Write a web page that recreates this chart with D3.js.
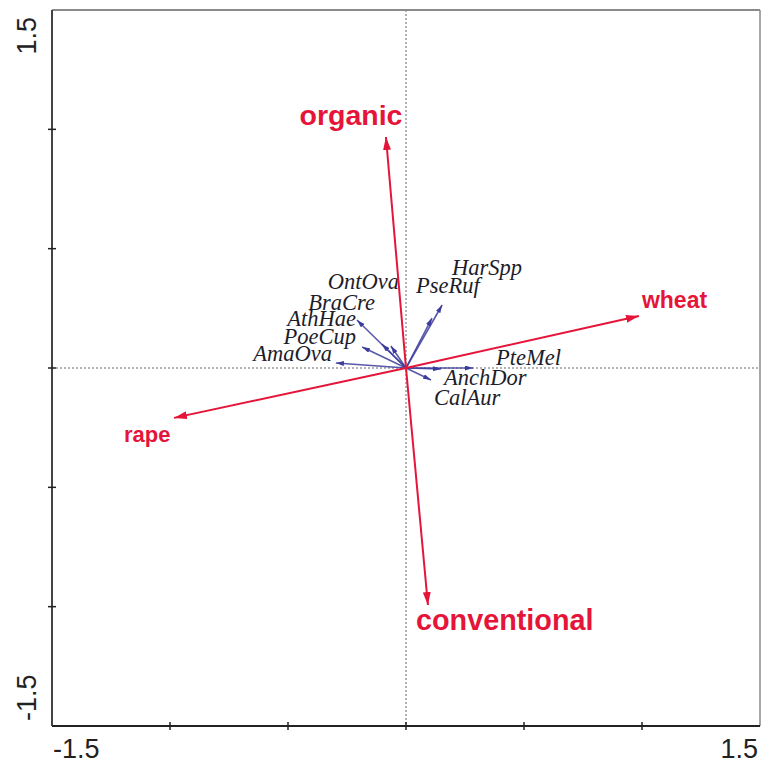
<!DOCTYPE html>
<html>
<head>
<meta charset="utf-8">
<script src="https://cdn.jsdelivr.net/npm/d3@7"></script>
<style>
  html, body { margin: 0; padding: 0; background: #fff; }
  svg { display: block; }
</style>
</head>
<body>
<svg id="chart" width="761" height="764"></svg>
<script>
// Ordination biplot: species vectors (blue) and environmental vectors (red)
const axisTicks = [-1.0, -0.5, 0, 0.5, 1.0];
const axisLabels = ["-1.5", "1.5"];

const envNames = ["organic", "conventional", "wheat", "rape"];
const envAx1 = [-0.085, 0.093, 0.987, -0.983];
const envAx2 = [0.968, -0.993, 0.218, -0.209];

const speciesNames = ["AmaOva", "PoeCup", "AthHae", "BraCre", "OntOva",
                      "PseRuf", "HarSpp", "PteMel", "AnchDor", "CalAur"];
const speciesAx1 = [-0.297, -0.186, -0.208, -0.102, -0.064, 0.110, 0.153, 0.284, 0.148, 0.106];
const speciesAx2 = [0.021, 0.088, 0.201, 0.100, 0.092, 0.209, 0.264, 0.000, -0.004, -0.050];

const svg = d3.select("#chart");
const plotLeft = 52, plotRight = 760, plotTop = 10, plotBottom = 726;

const x = d3.scaleLinear().domain([-1.5, 1.5]).range([plotLeft, plotRight]);
const y = d3.scaleLinear().domain([-1.5, 1.5]).range([plotBottom, plotTop]);

const red = "#e5153a";
const blue = "#3c3c9c";

const defs = svg.append("defs");
function marker(id, color, w, h) {
  defs.append("marker")
    .attr("id", id)
    .attr("viewBox", `0 0 ${w} ${h}`)
    .attr("refX", w).attr("refY", h / 2)
    .attr("markerUnits", "userSpaceOnUse")
    .attr("markerWidth", w).attr("markerHeight", h)
    .attr("orient", "auto")
    .append("path")
    .attr("d", `M0,0L${w},${h / 2}L0,${h}Z`)
    .attr("fill", color);
}
marker("headRed", red, 13, 8);
marker("headBlue", blue, 8, 5);

// dotted zero lines
svg.append("line")
  .attr("x1", x(0)).attr("x2", x(0)).attr("y1", plotTop).attr("y2", plotBottom)
  .attr("stroke", "#666").attr("stroke-width", 1).attr("stroke-dasharray", "2,2");
svg.append("line")
  .attr("x1", plotLeft).attr("x2", plotRight).attr("y1", y(0)).attr("y2", y(0))
  .attr("stroke", "#666").attr("stroke-width", 1).attr("stroke-dasharray", "2,2");

// frame
svg.append("line").attr("x1", plotLeft).attr("x2", plotRight).attr("y1", plotTop).attr("y2", plotTop)
  .attr("stroke", "#8a8a8a").attr("stroke-width", 2);
svg.append("line").attr("x1", plotRight).attr("x2", plotRight).attr("y1", plotTop).attr("y2", plotBottom)
  .attr("stroke", "#8a8a8a").attr("stroke-width", 1.5);
svg.append("line").attr("x1", plotLeft).attr("x2", plotLeft).attr("y1", plotTop).attr("y2", plotBottom)
  .attr("stroke", "#444").attr("stroke-width", 2);
svg.append("line").attr("x1", plotLeft).attr("x2", plotRight).attr("y1", plotBottom).attr("y2", plotBottom)
  .attr("stroke", "#222").attr("stroke-width", 2);

// ticks
svg.append("g").selectAll("line").data(axisTicks).join("line")
  .attr("x1", d => x(d)).attr("x2", d => x(d))
  .attr("y1", plotBottom - 4).attr("y2", plotBottom + 4)
  .attr("stroke", "#222").attr("stroke-width", 1.5);
svg.append("g").selectAll("line").data(axisTicks).join("line")
  .attr("y1", d => y(d)).attr("y2", d => y(d))
  .attr("x1", plotLeft - 4).attr("x2", plotLeft + 4)
  .attr("stroke", "#222").attr("stroke-width", 1.5);

// axis end labels
const tickFont = "'Liberation Sans', Arial, sans-serif";
svg.append("text").text(axisLabels[0])
  .attr("x", plotLeft + 1).attr("y", 758)
  .attr("font-family", tickFont).attr("font-size", 27).attr("fill", "#222");
svg.append("text").text(axisLabels[1])
  .attr("x", plotRight - 2).attr("y", 758).attr("text-anchor", "end")
  .attr("font-family", tickFont).attr("font-size", 27).attr("fill", "#222");
svg.append("text").text(axisLabels[1])
  .attr("transform", `translate(36,${plotTop + 7}) rotate(-90)`).attr("text-anchor", "end")
  .attr("font-family", tickFont).attr("font-size", 27).attr("fill", "#222");
svg.append("text").text(axisLabels[0])
  .attr("transform", `translate(36,${plotBottom - 5}) rotate(-90)`).attr("text-anchor", "start")
  .attr("font-family", tickFont).attr("font-size", 27).attr("fill", "#222");

// species vectors
const species = speciesNames.map((n, i) => ({ name: n, a1: speciesAx1[i], a2: speciesAx2[i] }));
svg.append("g").selectAll("line").data(species).join("line")
  .attr("x1", x(0)).attr("y1", y(0))
  .attr("x2", d => x(d.a1)).attr("y2", d => y(d.a2))
  .attr("stroke", blue).attr("stroke-width", 1.6).attr("stroke-opacity", 0.85)
  .attr("marker-end", "url(#headBlue)");

const spLabel = {
  AmaOva: [-4, -2, "end"], PoeCup: [-6, -3, "end"], AthHae: [-1, 6, "end"],
  BraCre: [-7, -34, "end"], OntOva: [8, -57, "end"], PseRuf: [-16, -25, "start"],
  HarSpp: [10, -30, "start"], PteMel: [23, -3, "start"], AnchDor: [3, 16, "start"],
  CalAur: [3, 25, "start"]
};
svg.append("g").selectAll("text").data(species).join("text")
  .text(d => d.name)
  .attr("x", d => x(d.a1) + spLabel[d.name][0])
  .attr("y", d => y(d.a2) + spLabel[d.name][1])
  .attr("text-anchor", d => spLabel[d.name][2])
  .attr("font-family", "'Liberation Serif', 'Times New Roman', serif")
  .attr("font-style", "italic").attr("font-size", 22.5).attr("fill", "#1d1d2a");

// environmental vectors
const env = envNames.map((n, i) => ({ name: n, a1: envAx1[i], a2: envAx2[i] }));
svg.append("g").selectAll("line").data(env).join("line")
  .attr("x1", x(0)).attr("y1", y(0))
  .attr("x2", d => x(d.a1)).attr("y2", d => y(d.a2))
  .attr("stroke", red).attr("stroke-width", 2)
  .attr("marker-end", "url(#headRed)");

const envLabel = {
  organic: [-35, -12, "middle", 28.5], conventional: [-12, 25, "start", 28.8],
  wheat: [3, -8, "start", 23], rape: [-50, 24, "start", 22]
};
svg.append("g").selectAll("text").data(env).join("text")
  .text(d => d.name)
  .attr("x", d => x(d.a1) + envLabel[d.name][0])
  .attr("y", d => y(d.a2) + envLabel[d.name][1])
  .attr("text-anchor", d => envLabel[d.name][2])
  .attr("font-family", "'Liberation Sans', Arial, sans-serif")
  .attr("font-weight", "bold").attr("font-size", d => envLabel[d.name][3])
  .attr("fill", red);
</script>
</body>
</html>
